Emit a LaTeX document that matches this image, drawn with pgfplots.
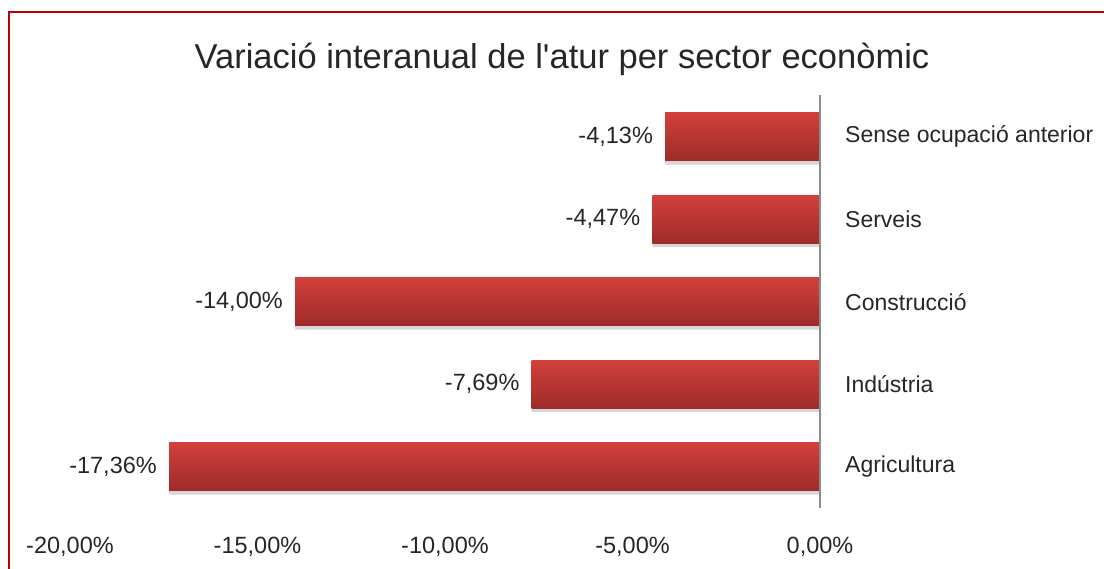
\documentclass[border=0pt]{standalone}
\usepackage{pgfplots}
\pgfplotsset{compat=1.18}
\usepackage{fontspec}
\setmainfont[Ligatures=TeXOff]{Liberation Sans}
\definecolor{bartop}{HTML}{D2403C}
\definecolor{barbot}{HTML}{9E2B29}
\definecolor{frame}{HTML}{C00000}
\definecolor{txt}{HTML}{262626}
\begin{document}
\begin{tikzpicture}[x=1pt,y=1pt]
\useasboundingbox (0,0) rectangle (1104,569);
\draw[frame, line width=2pt] (9,-20) -- (9,557) -- (1130,557);
\node[anchor=base, text=txt, font=\fontsize{34.5}{40}\selectfont] at (562,500) {Variació interanual de l\textquotesingle atur per sector econòmic};
\begin{axis}[
  at={(70pt,61pt)}, anchor=south west,
  scale only axis, width=750pt, height=412.5pt,
  xmin=-20, xmax=0, ymin=-0.5, ymax=4.5,
  axis line style={draw=none},
  major tick length=0pt,
  xtick={-20,-15,-10,-5,0},
  ytick={0,1,2,3,4},
  yticklabels={Agricultura, Indústria, Construcció, Serveis, Sense ocupació anterior},
  yticklabel pos=right,
  /pgf/number format/assume math mode=true,
  /pgf/number format/.cd, fixed, fixed zerofill, precision=2, use comma, 1000 sep={},
  /pgfplots/.cd,
  xticklabel={\pgfmathprintnumber{\tick}\%},
  xticklabel style={anchor=base, yshift=-46pt, font=\fontsize{23.5}{28}\selectfont, text=txt},
  yticklabel style={anchor=west, inner sep=0pt, xshift=25pt, font=\fontsize{23}{28}\selectfont, text=txt},
  clip=false,
  shadowbar/.style={xbar, bar width=48pt, bar shift=-4pt, fill=black!16, draw=none, forget plot},
  mainbar/.style={xbar, bar width=48pt, bar shift=0pt, top color=bartop, bottom color=barbot, draw=none,
    point meta=x,
    nodes near coords={\pgfmathprintnumber{\pgfplotspointmeta}\%},
    every node near coord/.append style={anchor=east, inner sep=0pt, xshift=-12pt, font=\fontsize{23.5}{28}\selectfont, text=txt}},
]
\addplot[shadowbar] coordinates {(-17.36,0) (-7.69,1) (-14.00,2) (-4.47,3) (-4.13,4)};
\addplot[mainbar] coordinates {(-17.36,0)};
\addplot[mainbar] coordinates {(-7.69,1)};
\addplot[mainbar] coordinates {(-14.00,2)};
\addplot[mainbar] coordinates {(-4.47,3)};
\addplot[mainbar] coordinates {(-4.13,4)};
\draw[black!45, line width=1.2pt] (axis cs:0,-0.5) -- (axis cs:0,4.5);
\end{axis}
\end{tikzpicture}
\end{document}
